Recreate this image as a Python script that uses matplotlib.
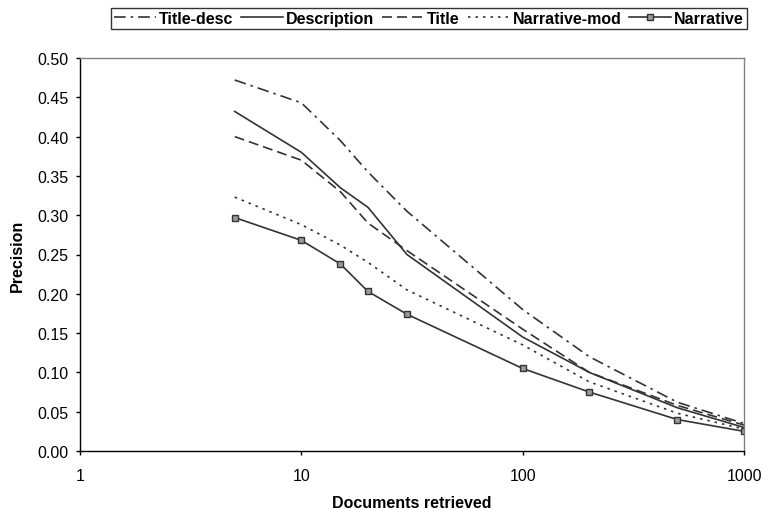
import numpy as np
import matplotlib
matplotlib.use("Agg")
import matplotlib.pyplot as plt
from matplotlib.ticker import FixedLocator, NullLocator

plt.rcParams['font.family'] = ['Liberation Sans', 'DejaVu Sans']

# Данные
docs = [5, 10, 15, 20, 30, 100, 200, 500, 1000]
title_desc = [0.472, 0.443, 0.395, 0.355, 0.305, 0.180, 0.120, 0.062, 0.035]
description = [0.432, 0.380, 0.335, 0.310, 0.250, 0.145, 0.100, 0.055, 0.030]
title = [0.400, 0.370, 0.330, 0.290, 0.255, 0.155, 0.100, 0.058, 0.033]
narrative_mod = [0.323, 0.288, 0.262, 0.240, 0.205, 0.135, 0.088, 0.048, 0.028]
narrative = [0.297, 0.268, 0.238, 0.203, 0.174, 0.105, 0.075, 0.040, 0.025]

x_ticks = [1, 10, 100, 1000]
y_ticks = [0.00, 0.05, 0.10, 0.15, 0.20, 0.25, 0.30, 0.35, 0.40, 0.45, 0.50]

line_color = '#333333'

fig = plt.figure(figsize=(7.63, 5.10), dpi=100)
ax = fig.add_axes([80 / 763, 1 - 452 / 510, 664 / 763, 393 / 510])

ax.plot(docs, title_desc, color=line_color, lw=1.2, dashes=(7, 3, 1.5, 3), label='Title-desc')
ax.plot(docs, description, color=line_color, lw=1.2, label='Description')
ax.plot(docs, title, color=line_color, lw=1.2, dashes=(6, 3), label='Title')
ax.plot(docs, narrative_mod, color=line_color, lw=1.2, dashes=(1.5, 3), label='Narrative-mod')
ax.plot(docs, narrative, color=line_color, lw=1.2, marker='s', markersize=4.5,
        markerfacecolor='#999999', markeredgecolor=line_color, markeredgewidth=1.0,
        label='Narrative')

ax.set_xscale('log')
ax.set_xlim(1, 1000)
ax.set_ylim(0, 0.5)
ax.xaxis.set_major_locator(FixedLocator(x_ticks))
ax.xaxis.set_minor_locator(NullLocator())
ax.set_xticklabels([str(v) for v in x_ticks])
ax.set_yticks(y_ticks)
ax.set_yticklabels(['%.2f' % v for v in y_ticks])
ax.tick_params(axis='both', direction='out', length=3, width=1, labelsize=11.5, color='black')
ax.tick_params(axis='x', pad=9)
ax.tick_params(axis='y', pad=5.5)

for side in ['top', 'right']:
    ax.spines[side].set_color('#808080')
    ax.spines[side].set_linewidth(1)
for side in ['left', 'bottom']:
    ax.spines[side].set_color('black')
    ax.spines[side].set_linewidth(1)

ax.set_xlabel('Documents retrieved', fontsize=11.5, fontweight='bold', labelpad=9)
ax.set_ylabel('Precision', fontsize=11.5, fontweight='bold', labelpad=9)

leg = fig.legend(loc='center', bbox_to_anchor=(429 / 763, 1 - 19.5 / 510), ncol=5,
                 frameon=True, fancybox=False, edgecolor='black',
                 prop={'weight': 'bold', 'size': 11.5}, handlelength=2.6,
                 handletextpad=0.2, columnspacing=0.5, borderpad=0.2)
leg.get_frame().set_linewidth(1)

fig.savefig('out.png', dpi=100)
